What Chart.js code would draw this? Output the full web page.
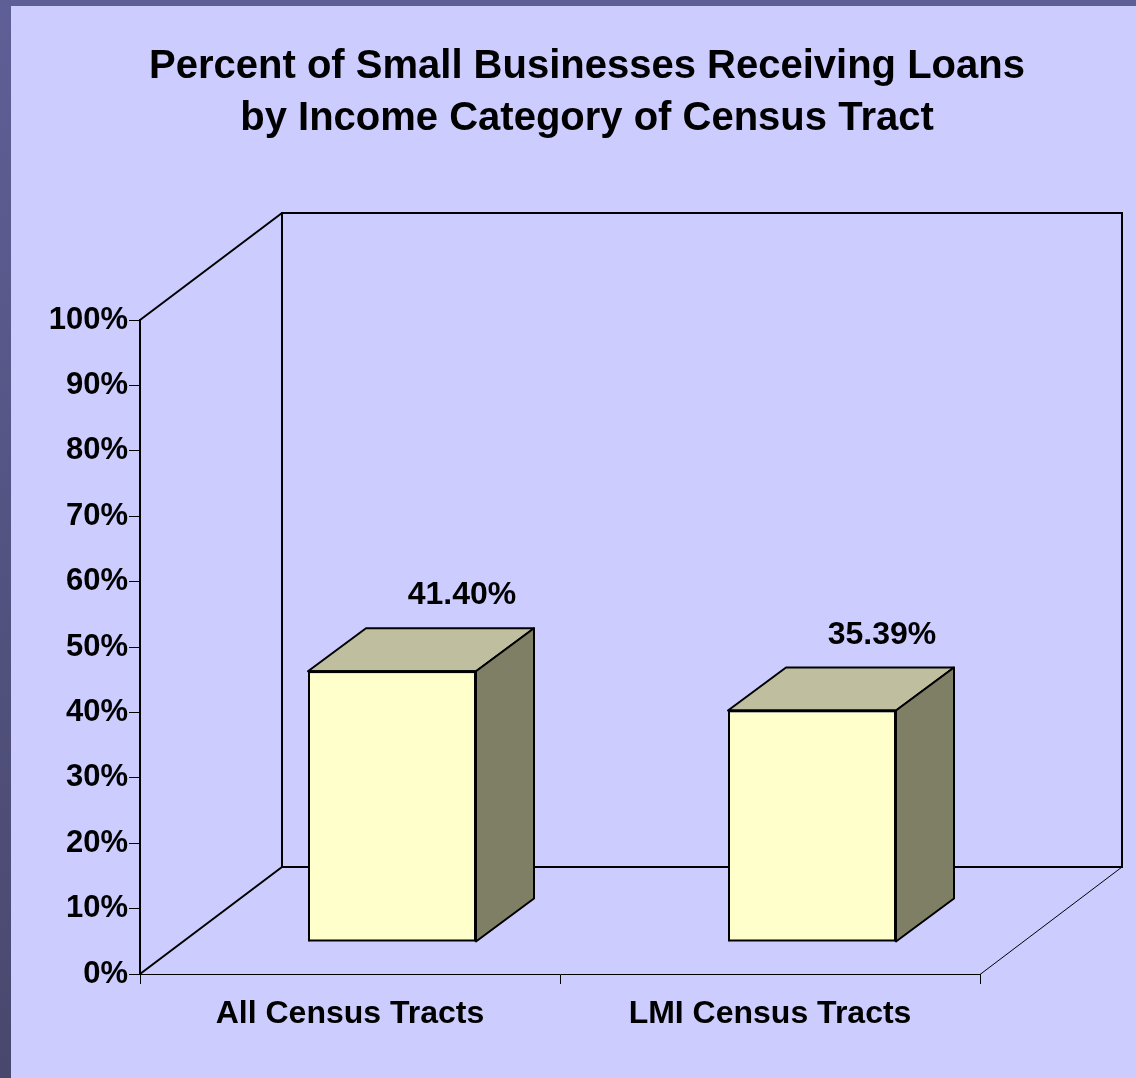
<!DOCTYPE html>
<html>
<head>
<meta charset="utf-8">
<title>Small Business Loans by Census Tract Income</title>
<script src="https://cdn.jsdelivr.net/npm/chart.js@4"></script>
<style>
  html, body { margin: 0; padding: 0; background: #5c5c92; }
  #wrap { width: 1136px; height: 1078px; position: relative; }
</style>
</head>
<body>
<div id="wrap"><canvas id="loanChart" width="1136" height="1078"></canvas></div>
<script>
// Chart data
const categories = ['All Census Tracts', 'LMI Census Tracts'];
const loanShare = [41.40, 35.39];
const titleLines = ['Percent of Small Businesses Receiving Loans', 'by Income Category of Census Tract'];

const FONT = '"Liberation Sans", Arial, Helvetica, sans-serif';
const PANEL = '#ccccff';

// depth of the 3D box (walls) and of each bar
const WALL_DX = 142, WALL_DY = -107;
const BAR_FX = 42, BAR_FY = -32;   // front face offset from front plane
const BAR_DX = 58, BAR_DY = -43;   // bar depth

// slide background: dark frame on left / top, lavender panel
const slideBg = {
  id: 'slideBg',
  beforeDraw(chart) {
    const { ctx, width, height } = chart;
    ctx.save();
    const g = ctx.createLinearGradient(0, 0, 0, height);
    g.addColorStop(0, '#5f5f97');
    g.addColorStop(1, '#48486e');
    ctx.fillStyle = g;
    ctx.fillRect(0, 0, width, height);
    ctx.fillStyle = PANEL;
    ctx.fillRect(11, 6, width - 11, height - 6);
    ctx.restore();
  }
};

// walls + 3D bars
const box3d = {
  id: 'box3d',
  beforeDatasetsDraw(chart) {
    const { ctx, chartArea: a } = chart;
    ctx.save();
    ctx.strokeStyle = '#000';
    ctx.lineJoin = 'miter';

    // back wall
    ctx.lineWidth = 2;
    ctx.strokeRect(a.left + WALL_DX, a.top + WALL_DY, a.right - a.left, a.bottom - a.top);

    // left wall edges
    ctx.beginPath();
    ctx.moveTo(a.left, a.top);
    ctx.lineTo(a.left + WALL_DX, a.top + WALL_DY);
    ctx.moveTo(a.left, a.bottom);
    ctx.lineTo(a.left + WALL_DX, a.bottom + WALL_DY);
    ctx.stroke();

    // floor right edge
    ctx.lineWidth = 1;
    ctx.beginPath();
    ctx.moveTo(a.right, a.bottom + 0.5);
    ctx.lineTo(a.right + WALL_DX, a.bottom + WALL_DY);
    ctx.stroke();
    ctx.restore();

    // the native bars become the front faces
    ctx.save();
    ctx.translate(BAR_FX, BAR_FY);
  },
  afterDatasetsDraw(chart) {
    const { ctx } = chart;
    ctx.restore();

    const meta = chart.getDatasetMeta(0);
    ctx.save();
    ctx.strokeStyle = '#000';
    ctx.lineWidth = 2;
    ctx.lineJoin = 'round';
    meta.data.forEach((bar, i) => {
      const p = bar.getProps(['x', 'y', 'base', 'width'], true);
      const l = p.x - p.width / 2 + BAR_FX;
      const r = p.x + p.width / 2 + BAR_FX;
      const t = p.y + BAR_FY;
      const b = p.base + BAR_FY;

      // top face
      ctx.beginPath();
      ctx.moveTo(l, t);
      ctx.lineTo(l + BAR_DX, t + BAR_DY);
      ctx.lineTo(r + BAR_DX, t + BAR_DY);
      ctx.lineTo(r, t);
      ctx.closePath();
      ctx.fillStyle = '#bfbf9f';
      ctx.fill();
      ctx.stroke();

      // side face
      ctx.beginPath();
      ctx.moveTo(r, t);
      ctx.lineTo(r + BAR_DX, t + BAR_DY);
      ctx.lineTo(r + BAR_DX, b + BAR_DY);
      ctx.lineTo(r, b);
      ctx.closePath();
      ctx.fillStyle = '#7f7f66';
      ctx.fill();
      ctx.stroke();

      // front outline again so joints are crisp
      ctx.strokeRect(l + 1, t, r - l - 2, b - t - 1);

      // value label above the back edge of the top face
      ctx.fillStyle = '#000';
      ctx.font = 'bold 32px ' + FONT;
      ctx.textAlign = 'center';
      ctx.textBaseline = 'alphabetic';
      ctx.fillText(loanShare[i].toFixed(2) + '%', (l + r) / 2 + BAR_DX + 12, t + BAR_DY - 24);
    });
    ctx.restore();
  }
};

const ctx = document.getElementById('loanChart').getContext('2d');
new Chart(ctx, {
  type: 'bar',
  data: {
    labels: categories,
    datasets: [{
      data: loanShare,
      backgroundColor: '#ffffcc',
      borderColor: '#000',
      borderWidth: 2,
      categoryPercentage: 1,
      barPercentage: 0.4
    }]
  },
  options: {
    responsive: false,
    animation: false,
    layout: { padding: { left: 38, right: 0, top: 0, bottom: 0 } },
    plugins: {
      legend: { display: false },
      tooltip: { enabled: false },
      title: {
        display: true,
        text: titleLines,
        color: '#000',
        font: { family: FONT, size: 40, weight: 'bold', lineHeight: 52 / 40 },
        padding: { top: 41, bottom: 175 }
      }
    },
    scales: {
      x: {
        grid: { offset: true, drawOnChartArea: false, tickLength: 10, color: '#000', lineWidth: 1 },
        border: { display: true, color: '#000', width: 1 },
        ticks: { color: '#000', font: { family: FONT, size: 32, weight: 'bold' }, padding: 11 },
        afterFit(scale) { scale.height = 104; }
      },
      y: {
        min: 0,
        max: 100,
        ticks: {
          stepSize: 10,
          color: '#000',
          padding: 1,
          font: { family: FONT, size: 31, weight: 'bold' },
          callback: v => v + '%'
        },
        grid: { drawOnChartArea: false, tickLength: 11, color: '#000', lineWidth: 1 },
        border: { display: true, color: '#000', width: 2 },
        afterFit(scale) { scale.width = 102; }
      },
      // empty margin on the right, where the 3D walls run back
      depth: {
        type: 'linear',
        position: 'right',
        display: true,
        ticks: { display: false },
        grid: { display: false },
        border: { display: false },
        afterFit(scale) { scale.width = 156; }
      }
    }
  },
  plugins: [slideBg, box3d]
});
</script>
</body>
</html>
